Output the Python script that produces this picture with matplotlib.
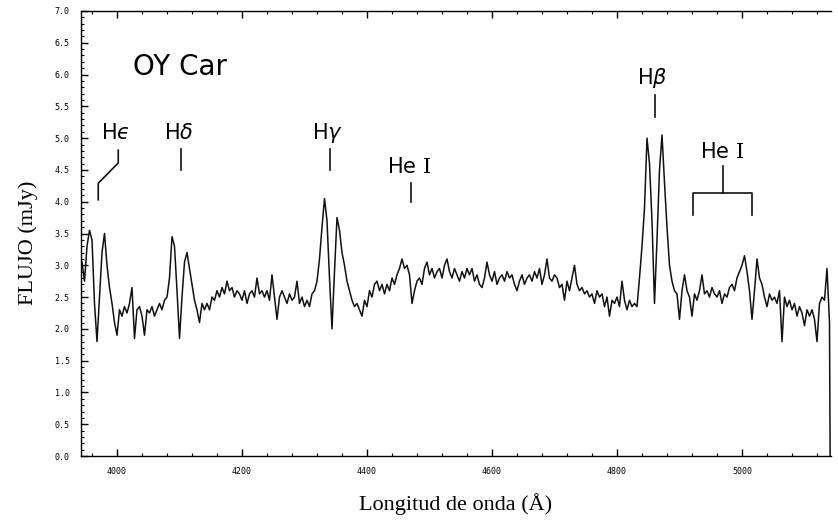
import numpy as np
from matplotlib import pyplot as plt
from matplotlib.ticker import MultipleLocator

plt.rcParams['mathtext.fontset'] = 'dejavusans'

# spectrum of OY Car, flux (mJy) every 4 A from 3944 to 5140
wave_start, wave_step = 3944, 4
flux = [
    3.05, 2.75, 3.30, 3.55, 3.40, 2.40, 1.80, 2.50, 3.20, 3.50,
    3.00, 2.65, 2.40, 2.10, 1.90, 2.30, 2.20, 2.35, 2.25, 2.40,
    2.65, 1.85, 2.30, 2.35, 2.20, 1.90, 2.30, 2.25, 2.35, 2.20,
    2.30, 2.40, 2.30, 2.45, 2.50, 2.80, 3.45, 3.30, 2.60, 1.85,
    2.50, 3.05, 3.20, 2.95, 2.70, 2.45, 2.30, 2.10, 2.40, 2.30,
    2.40, 2.30, 2.50, 2.45, 2.60, 2.50, 2.65, 2.55, 2.75, 2.60,
    2.65, 2.50, 2.60, 2.55, 2.45, 2.60, 2.40, 2.55, 2.60, 2.50,
    2.80, 2.55, 2.60, 2.50, 2.60, 2.45, 2.85, 2.50, 2.15, 2.50,
    2.60, 2.50, 2.40, 2.55, 2.45, 2.50, 2.75, 2.40, 2.50, 2.35,
    2.45, 2.35, 2.55, 2.60, 2.75, 3.10, 3.60, 4.05, 3.70, 2.80,
    2.00, 2.90, 3.75, 3.55, 3.20, 3.00, 2.75, 2.60, 2.45, 2.35,
    2.40, 2.30, 2.20, 2.45, 2.35, 2.60, 2.50, 2.70, 2.75, 2.60,
    2.70, 2.55, 2.70, 2.60, 2.80, 2.70, 2.85, 2.95, 3.10, 2.95,
    3.00, 2.85, 2.40, 2.60, 2.75, 2.80, 2.70, 2.95, 3.05, 2.85,
    2.95, 2.80, 2.90, 2.95, 2.80, 3.00, 3.10, 2.90, 2.80, 2.95,
    2.85, 2.75, 2.90, 2.80, 2.95, 2.85, 2.95, 2.75, 2.85, 2.70,
    2.65, 2.80, 3.05, 2.85, 2.75, 2.90, 2.70, 2.80, 2.85, 2.75,
    2.90, 2.80, 2.85, 2.70, 2.60, 2.75, 2.85, 2.70, 2.80, 2.85,
    2.75, 2.90, 2.80, 2.95, 2.70, 2.85, 3.10, 2.80, 2.75, 2.85,
    2.80, 2.65, 2.70, 2.45, 2.75, 2.60, 2.80, 3.00, 2.70, 2.60,
    2.65, 2.55, 2.60, 2.50, 2.55, 2.40, 2.60, 2.50, 2.55, 2.35,
    2.50, 2.20, 2.45, 2.40, 2.50, 2.35, 2.75, 2.45, 2.30, 2.45,
    2.35, 2.40, 2.35, 2.80, 3.30, 3.90, 5.00, 4.60, 3.70, 2.40,
    3.40, 4.50, 5.05, 4.30, 3.60, 3.00, 2.75, 2.60, 2.55, 2.15,
    2.60, 2.85, 2.60, 2.50, 2.20, 2.55, 2.45, 2.60, 2.85, 2.55,
    2.60, 2.50, 2.65, 2.55, 2.50, 2.60, 2.40, 2.55, 2.50, 2.65,
    2.70, 2.60, 2.80, 2.90, 3.00, 3.15, 2.90, 2.60, 2.15, 2.60,
    3.10, 2.80, 2.70, 2.50, 2.35, 2.55, 2.45, 2.50, 2.40, 2.60,
    1.80, 2.50, 2.35, 2.45, 2.30, 2.40, 2.20, 2.35, 2.25, 2.05,
    2.30, 2.20, 2.30, 2.15, 1.80, 2.40, 2.50, 2.45, 2.95, 2.10,
]
# the trace drops to zero at the red end of the scan
end_wave, end_flux = 5141, 0.0

wave = wave_start + wave_step*np.arange(len(flux))
wave = np.append(wave, end_wave)
flux = np.append(flux, end_flux)

# line identifications
line_names = ['H$\u03f5$', r'H$\delta$', r'H$\gamma$', r'H$\beta$']
line_waves = [3970, 4102, 4340, 4861]
hei_single = 4471
hei_pair = [4922, 5016]

fig = plt.figure(figsize=(8.38, 5.21), dpi=100)
ax = fig.add_axes([81/838, 65/521, 750/838, 445/521])

ax.plot(wave, flux, color='#111111', lw=1.1)

ax.set_xlim(3942.4, 5142.4)
ax.set_ylim(0, 7)

ax.spines['right'].set_visible(False)
for s in ['top', 'bottom', 'left']:
    ax.spines[s].set_linewidth(1.0)

ax.xaxis.set_major_locator(MultipleLocator(200))
ax.xaxis.set_minor_locator(MultipleLocator(40))
ax.yaxis.set_major_locator(MultipleLocator(0.5))
ax.yaxis.set_minor_locator(MultipleLocator(0.1))
ax.tick_params(which='both', direction='in', top=True, right=False)
ax.tick_params(which='major', length=5, width=1)
ax.tick_params(which='minor', length=2, width=0.8)
ax.tick_params(axis='x', pad=8)
ax.tick_params(axis='y', pad=8)
ax.set_yticklabels(['%.1f' % v for v in ax.get_yticks()])
for lab in ax.get_xticklabels() + ax.get_yticklabels():
    lab.set_fontfamily('DejaVu Sans Mono')
    lab.set_fontsize(6)

ax.set_xlabel('Longitud de onda (Å)', family='Liberation Serif', fontsize=16, labelpad=12)
ax.set_ylabel('FLUJO (mJy)', family='Liberation Serif', fontsize=16)
ax.yaxis.set_label_coords(-0.057, 0.48)

ax.text(4100, 6.12, 'OY Car', fontsize=20, family='DejaVu Sans', ha='center', va='center')

lc = '#111111'
fs = 15
# H epsilon: bent marker
hx = line_waves[0]
ax.plot([hx, hx, hx + 32, hx + 32], [4.03, 4.29, 4.61, 4.81], color=lc, lw=1.2)
ax.text(hx + 27, 5.08, line_names[0], fontsize=fs, ha='center', va='center')
# H delta, H gamma
for name, w in zip(line_names[1:3], line_waves[1:3]):
    ax.plot([w, w], [4.5, 4.83], color=lc, lw=1.2)
    ax.text(w - 4, 5.08, name, fontsize=fs, ha='center', va='center')
# H beta
w = line_waves[3]
ax.plot([w, w], [5.33, 5.68], color=lc, lw=1.2)
ax.text(w - 5, 5.94, line_names[3], fontsize=fs, ha='center', va='center')

# He I 4471
ax.plot([hei_single, hei_single], [3.99, 4.29], color=lc, lw=1.2)
ax.text(hei_single - 3, 4.54, 'He ' + r'$\mathrm{I}$', fontsize=fs, ha='center', va='center',
        math_fontfamily='dejavuserif')
# He I pair bracket
mid = (hei_pair[0] + hei_pair[1])/2.
ax.plot([hei_pair[0], hei_pair[0], hei_pair[1], hei_pair[1]], [3.79, 4.14, 4.14, 3.79], color=lc, lw=1.2)
ax.plot([mid, mid], [4.14, 4.56], color=lc, lw=1.2)
ax.text(mid, 4.78, 'He ' + r'$\mathrm{I}$', fontsize=fs, ha='center', va='center',
        math_fontfamily='dejavuserif')

fig.savefig('out.png', dpi=100)
